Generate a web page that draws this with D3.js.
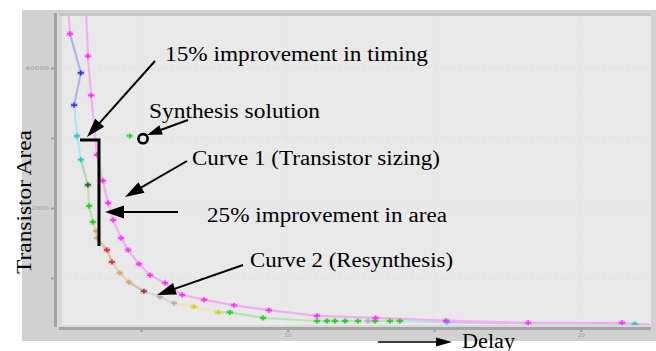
<!DOCTYPE html>
<html><head><meta charset="utf-8">
<script src="https://cdn.jsdelivr.net/npm/d3@7"></script>
<style>body{margin:0;background:#fff}svg{display:block}</style>
</head><body><svg id="c" width="656" height="351"></svg>
<script>
// ---- data (delay, transistor area) ----
const curve1Delay = [3.12, 3.19, 3.30, 3.50, 3.70, 3.88, 4.05, 4.32, 4.56, 4.93, 5.31, 5.82, 6.40, 7.15, 8.17, 9.36, 11.0, 13.0, 15.4, 18.2, 21.4, 22.35];
const curve1Area  = [49.0, 41.7, 36.1, 27.6, 23.9, 20.7, 18.3, 15.7, 14.0, 12.0, 10.4, 9.3, 7.6, 6.9, 6.1, 5.4, 4.6, 4.3, 3.9, 3.6, 3.6, 3.3];
const curve1Marked = [false, true, true, true, true, true, true, true, true, true, true, true, true, true, true, true, true, true, true, true, true, false];

const curve2Delay = [2.51, 2.58, 2.95, 2.72, 2.82, 2.95, 3.19, 3.23, 3.36, 3.47, 3.50, 3.84, 4.01, 4.28, 4.59, 5.10, 5.65, 6.13, 6.81, 7.63, 8.03, 9.16, 11.0, 11.34, 11.61, 11.96, 12.40, 12.74, 12.98, 13.49, 13.83, 15.43, 18.6, 21.84, 22.35];
const curve2Area  = [49.0, 44.9, 39.3, 34.7, 30.3, 26.9, 23.3, 20.3, 18.0, 16.7, 15.7, 14.0, 12.3, 10.7, 9.4, 8.1, 7.3, 6.4, 5.9, 5.1, 5.1, 4.3, 3.86, 3.86, 3.86, 3.86, 3.86, 3.86, 3.86, 3.86, 3.86, 3.7, 3.5, 3.43, 3.3];
const curve2Run   = ["A","A","B","B","C","C","D","E","E","F","F","G","G","F","F","H","I","I","J","J","E","E","E","E","E","E","E","I","E","E","E","C","K","C","K"];

const synthesisDelay = [4.62];
const synthesisArea  = [30.3];

const xTickValues = [5, 10, 15, 20];
const xTickLabels = ["", "10", "", "20"];
const yTickValues = [10, 20, 30, 40];
const yTickLabels = ["", "20000", "", "40000"];

// ---- styles ----
const runStyle = {
  A:{m:"#ff30ff", l:"#f2b4ee"}, B:{m:"#3434d6", l:"#b2b2e8"}, C:{m:"#2ec4cc", l:"#b0e6e6"},
  D:{m:"#1e6a1e", l:"#acdaac"}, E:{m:"#26c626", l:"#bae2ba"}, F:{m:"#d4a868", l:"#e6d2b6"},
  G:{m:"#d43434", l:"#e6b6ae"}, H:{m:"#9a3a2a", l:"#dabcb4"}, I:{m:"#b0b0b0", l:"#d8d8d8"},
  J:{m:"#d2d222", l:"#e8e8b8"}, K:{m:null, l:"#c8bcec"}
};
const c1 = {m:"#ff2cff", l:"#f2b0ee"};

const svg = d3.select("#c");
const W = 656, H = 351;
const L = 62, R = 651, T = 13, B = 327;

const x = d3.scaleLinear().domain([2.307, 22.39]).range([L, R]);
const y = d3.scaleLinear().domain([3.0, 47.86]).range([B, T]);

// panel
svg.append("rect").attr("x",22).attr("y",10).attr("width",W-22).attr("height",331).attr("fill","#d1d1d1");
svg.append("rect").attr("x",57).attr("y",13).attr("width",R-57).attr("height",B-13).attr("fill","#d9d9d9");
svg.append("rect").attr("x",L).attr("y",16).attr("width",R-L).attr("height",325-16).attr("fill","#e9e9e9");
svg.append("rect").attr("x",59).attr("y",13).attr("width",R-59).attr("height",3).attr("fill","#c6c6c6");
svg.append("rect").attr("x",54).attr("y",13).attr("width",3).attr("height",B-13).attr("fill","#a3a3a3");
svg.append("rect").attr("x",59).attr("y",327).attr("width",R-59).attr("height",3).attr("fill","#a6a6a6");

// faint gridlines
const grid = svg.append("g").attr("stroke","#dfdfdf").attr("stroke-width",1).attr("stroke-dasharray","3,3");
yTickValues.forEach(v=>grid.append("line").attr("x1",L).attr("x2",R).attr("y1",y(v)).attr("y2",y(v)));
xTickValues.forEach(v=>grid.append("line").attr("x1",x(v)).attr("x2",x(v)).attr("y1",16).attr("y2",325).attr("stroke","#e4e4e4"));

// axes (ticks + tiny labels)
const xa = svg.append("g").attr("transform",`translate(0,${330})`)
  .call(d3.axisBottom(x).tickValues(xTickValues).tickFormat((d,i)=>xTickLabels[i]).tickSize(2).tickPadding(1));
xa.select(".domain").remove();
xa.selectAll("line").attr("stroke","#999").attr("stroke-width",2);
xa.selectAll("text").attr("fill","#999").attr("font-size",5.5).attr("font-family","DejaVu Sans");

const ya = svg.append("g").attr("transform",`translate(${54},0)`)
  .call(d3.axisLeft(y).tickValues(yTickValues).tickFormat((d,i)=>yTickLabels[i]).tickSize(3).tickPadding(2));
ya.select(".domain").remove();
ya.selectAll("line").attr("stroke","#a0a0a0").attr("stroke-width",2);
ya.selectAll("text").attr("fill","#999").attr("font-size",5).attr("font-family","DejaVu Sans")
  .attr("textLength",(d,i)=> i===3?24:17).attr("lengthAdjust","spacingAndGlyphs");

// clip
svg.append("clipPath").attr("id","pc").append("rect").attr("x",L).attr("y",16).attr("width",R-L).attr("height",325-16);
const plot = svg.append("g").attr("clip-path","url(#pc)");

function marker(g, px, py, col){
  g.append("rect").attr("x",px-3.5).attr("y",py-2.5).attr("width",7).attr("height",5).attr("fill",col).attr("opacity",0.22);
  g.append("line").attr("x1",px-3).attr("x2",px+3).attr("y1",py).attr("y2",py).attr("stroke",col).attr("stroke-width",1.6);
  g.append("line").attr("x1",px).attr("x2",px).attr("y1",py-2.5).attr("y2",py+2.5).attr("stroke",col).attr("stroke-width",1.6);
}

// curve 2 (multi-run resynthesis)
const pts2 = curve2Delay.map((d,i)=>({d, a:curve2Area[i], r:curve2Run[i]}));
for(let i=1;i<pts2.length;i++){
  plot.append("line").attr("x1",x(pts2[i-1].d)).attr("y1",y(pts2[i-1].a))
    .attr("x2",x(pts2[i].d)).attr("y2",y(pts2[i].a))
    .attr("stroke",runStyle[pts2[i].r].l).attr("stroke-width",2.2);
}
// curve 1 line
const line = d3.line().x(p=>x(p.d)).y(p=>y(p.a));
const pts1 = curve1Delay.map((d,i)=>({d, a:curve1Area[i], m:curve1Marked[i]}));
plot.append("path").datum(pts1).attr("d",line).attr("fill","none").attr("stroke",c1.l).attr("stroke-width",2.2);

pts2.forEach(p=>{ const s=runStyle[p.r]; if(s.m) marker(plot, x(p.d), y(p.a), s.m); });
pts1.forEach(p=>{ if(p.m) marker(plot, x(p.d), y(p.a), c1.m); });

// synthesis point
synthesisDelay.forEach((d,i)=>marker(plot, x(d), y(synthesisArea[i]), "#30d030"));

// ---- annotations ----
const ann = svg.append("g");
function arrow(x1,y1,x2,y2,head,hw,sw){
  const dx=x2-x1, dy=y2-y1, len=Math.hypot(dx,dy), ux=dx/len, uy=dy/len;
  const bx=x2-ux*head, by=y2-uy*head;
  ann.append("line").attr("x1",x1).attr("y1",y1).attr("x2",bx+ux*2).attr("y2",by+uy*2)
    .attr("stroke","#000").attr("stroke-width",sw);
  ann.append("path").attr("d",`M${x2},${y2}L${bx-uy*hw},${by+ux*hw}L${bx+uy*hw},${by-ux*hw}Z`).attr("fill","#000");
}
arrow(155,61,87,137,19,6,2);
arrow(188,120,147,135,15,5,2);
arrow(187,161,125,197,19,6,2);
arrow(178,212,105,212,19,6.5,2);
arrow(243,265,157,295,19,6,2);
arrow(378,342,452,342,16,4.5,1.6);

// bracket
ann.append("path").attr("d","M80,140H99V246").attr("fill","none").attr("stroke","#000").attr("stroke-width",3);
// synthesis solution circle
ann.append("circle").attr("cx",x(5.07)).attr("cy",y(29.9)).attr("r",4.6).attr("fill","none").attr("stroke","#000").attr("stroke-width",2.6);

const texts = [
  {t:"15% improvement in timing", x:165, y:61, w:263},
  {t:"Synthesis solution", x:149, y:118, w:171},
  {t:"Curve 1 (Transistor sizing)", x:192, y:165, w:248},
  {t:"25% improvement in area", x:207, y:222, w:240},
  {t:"Curve 2 (Resynthesis)", x:250, y:267, w:203},
  {t:"Delay", x:462, y:348, w:53}
];
texts.forEach(o=>ann.append("text").attr("x",o.x).attr("y",o.y).text(o.t)
  .attr("font-family","Liberation Serif, serif").attr("font-size",20).attr("fill","#000")
  .attr("textLength",o.w).attr("lengthAdjust","spacingAndGlyphs"));
ann.append("text").attr("transform","translate(31,202) rotate(-90)").attr("text-anchor","middle")
  .text("Transistor Area").attr("font-family","Liberation Serif, serif").attr("font-size",20)
  .attr("textLength",144).attr("lengthAdjust","spacingAndGlyphs");
</script></body></html>
